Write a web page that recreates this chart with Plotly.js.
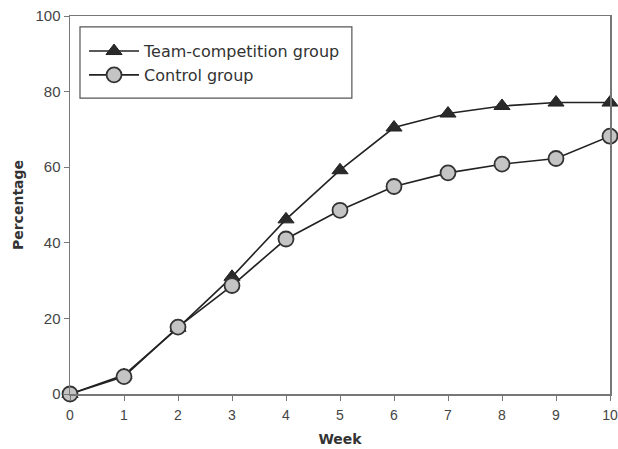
<!DOCTYPE html>
<html>
<head>
<meta charset="utf-8">
<script src="https://cdn.plot.ly/plotly-3.0.1.min.js"></script>
<style>html,body{margin:0;padding:0;background:#fff;}#chart{width:618px;height:449px;}</style>
</head>
<body>
<div id="chart"></div>
<script>
const weeks = [0,1,2,3,4,5,6,7,8,9,10];
const teamCompetition = [0,5,17.5,31,46.2,59.2,70.5,74.2,76.2,77.1,77.1];
const controlGroup = [0,4.6,17.7,28.7,41,48.6,54.9,58.5,60.8,62.3,68.2];
const seriesNames = ["Team-competition group","Control group"];
const yTicks = [0,20,40,60,80,100];

const FONT = "DejaVu Sans, Arial, sans-serif";
const TICKFONT = "Liberation Sans, Arial, sans-serif";

const traces = [
  {x: weeks, y: teamCompetition, name: seriesNames[0], mode: "lines+markers",
   line: {color: "#222", width: 1.6},
   marker: {symbol: "triangle-up", size: 14, color: "#2a2a2a", line: {color: "#222", width: 1}},
   cliponaxis: false},
  {x: weeks, y: controlGroup, name: seriesNames[1], mode: "lines+markers",
   line: {color: "#222", width: 1.6},
   marker: {symbol: "circle", size: 15, color: "#c4c4c4", line: {color: "#333", width: 1.8}},
   cliponaxis: false}
];

const layout = {
  width: 618, height: 449,
  margin: {l: 70, r: 8, t: 16, b: 55},
  paper_bgcolor: "#fff", plot_bgcolor: "#fff",
  font: {family: FONT, color: "#444", size: 14},
  showlegend: true,
  legend: {x: 0.026, y: 0.952, xanchor: "left", yanchor: "top",
    borderwidth: 0, bgcolor: "rgba(0,0,0,0)",
    font: {size: 16, color: "#333", family: FONT}, itemwidth: 50},
  shapes: [{type: "rect", xref: "paper", yref: "paper", x0: 0.0185, x1: 0.522, y0: 0.783, y1: 0.971,
    line: {color: "#555", width: 1.2}, fillcolor: "#fff", layer: "below"}],
  xaxis: {range: [0,10], tickvals: weeks, ticks: "outside", ticklen: 5, tickcolor: "#777",
    showline: true, linecolor: "#777", linewidth: 1.5, mirror: true, showgrid: false, zeroline: false,
    tickfont: {size: 14, color: "#444", family: TICKFONT}, ticklabelstandoff: 3,
    title: {text: "Week", font: {size: 14, color: "#333", family: FONT, weight: "bold"}, standoff: 12}},
  yaxis: {range: [0,100], tickvals: yTicks, ticks: "outside", ticklen: 5, tickcolor: "#777",
    showline: true, linecolor: "#777", linewidth: 1.5, mirror: true, showgrid: false, zeroline: false,
    tickfont: {size: 15, color: "#444", family: TICKFONT},
    title: {text: "Percentage", font: {size: 14, color: "#333", family: FONT, weight: "bold"}, standoff: 8}}
};

Plotly.newPlot("chart", traces, layout, {displayModeBar: false, staticPlot: true});
</script>
</body>
</html>
